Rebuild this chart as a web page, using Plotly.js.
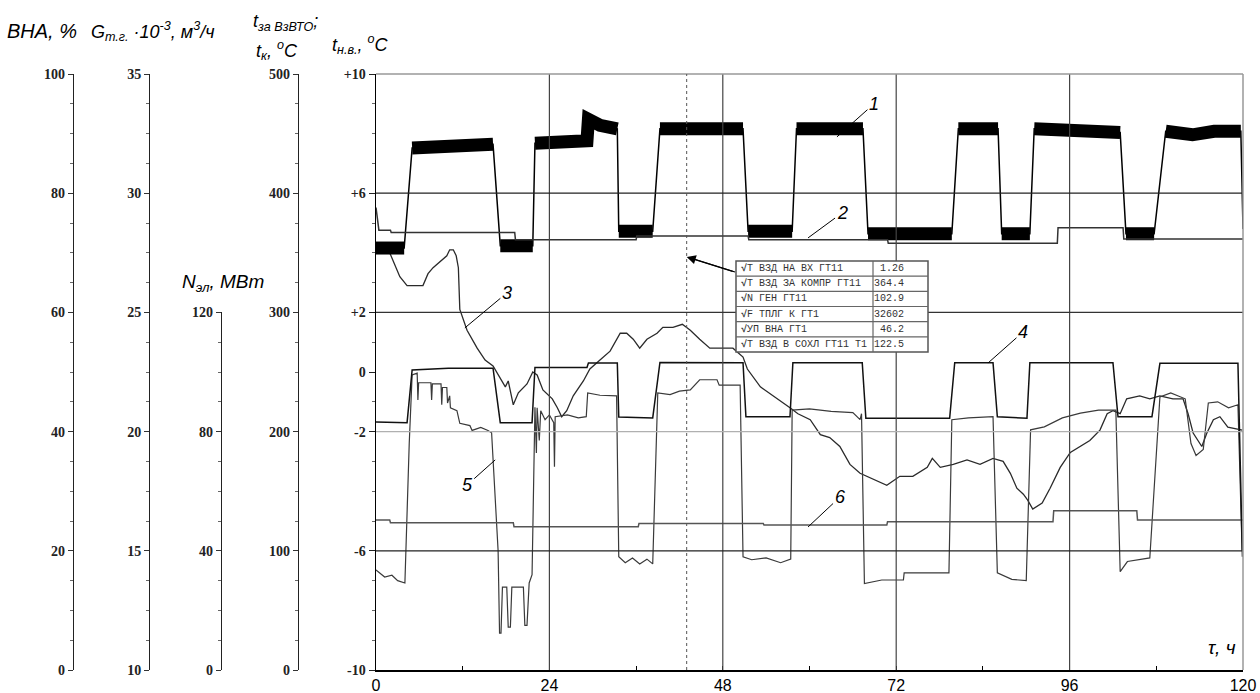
<!DOCTYPE html>
<html><head><meta charset="utf-8">
<script src="https://cdn.plot.ly/plotly-3.0.1.min.js"></script>
<style>html,body{margin:0;padding:0;background:#fff}#chart{width:1260px;height:693px}</style>
</head><body><div id="chart"></div>
<script>
// ---- data (hours, values in each curve's own units) ----
// 1: fuel gas flow G, thousand m3/h
const c1_h = [0, 3.9, 5.0, 10.0, 16.2, 17.2, 21.7, 22.0, 26.0, 29.2, 29.4, 31.0, 33.4, 33.6, 38.3, 39.3, 45.0, 50.8, 51.5, 57.6, 58.2, 63.0, 67.4, 68.1, 74.0, 79.7, 80.6, 86.1, 86.6, 90.5, 91.1, 97.0, 103.0, 103.8, 107.7, 109.3, 113.0, 116.0, 119.7, 120.0];
const c1_G = [27.7, 27.7, 31.9, 32.0, 32.05, 27.8, 27.8, 32.1, 32.15, 32.2, 33.1, 32.85, 32.7, 28.4, 28.4, 32.7, 32.65, 32.7, 28.4, 28.4, 32.7, 32.65, 32.7, 28.3, 28.3, 28.3, 32.7, 32.7, 28.3, 28.3, 32.7, 32.65, 32.55, 28.3, 28.3, 32.6, 32.45, 32.6, 32.6, 28.5];
// 2: compressor outlet air temperature, °C
const c2_h = [0, 0.4, 2.0, 2.1, 19.2, 19.3, 36.0, 36.1, 51.5, 51.6, 70.8, 70.9, 94.3, 94.4, 103.4, 103.5, 120];
const c2_tk = [388, 369, 369, 367, 367, 361, 361, 364, 364, 361, 361, 358, 358, 371, 371, 361.5, 361.5];
// 3: outdoor air temperature, °C
const c3_h = [0, 1.9, 3.3, 4.3, 6.5, 7.2, 7.9, 8.9, 9.8, 10.2, 10.7, 11.1, 11.4, 11.6, 12.6, 14.0, 15.1, 16.2, 17.2, 17.9, 18.3, 19.0, 19.7, 20.9, 21.7, 22.3, 23.1, 24.4, 25.1, 25.7, 26.4, 27.3, 28.7, 29.6, 31.0, 32.4, 33.8, 34.7, 35.6, 36.5, 37.5, 38.9, 39.7, 41.1, 42.4, 43.5, 44.8, 46.2, 48.0, 49.4, 50.8, 51.4, 53.2, 55.0, 57.3, 58.4, 60.1, 61.5, 62.8, 64.2, 65.6, 67.0, 68.8, 70.7, 72.5, 74.3, 76.3, 77.0, 78.1, 79.9, 81.8, 83.6, 85.4, 86.8, 87.8, 88.7, 89.6, 90.2, 90.9, 92.2, 93.3, 94.7, 96.1, 97.4, 98.8, 100.2, 101.2, 102.0, 103.0, 103.9, 105.7, 107.1, 108.5, 110.3, 111.7, 112.4, 113.1, 114.3, 115.0, 115.9, 116.8, 117.9, 119.2, 119.9];
const c3_tnv = [4.3, 4.0, 3.2, 2.9, 2.9, 3.3, 3.5, 3.7, 3.9, 4.1, 4.1, 3.9, 3.5, 2.1, 1.4, 0.8, 0.4, 0.2, -0.2, -0.5, -0.3, -1.1, -0.7, -0.4, 0.0, -0.1, -0.6, -0.9, -1.2, -1.5, -1.3, -0.8, -0.3, 0.1, 0.4, 0.7, 1.3, 1.3, 1.1, 0.8, 1.1, 1.3, 1.5, 1.5, 1.6, 1.4, 1.1, 0.8, 0.8, 0.8, 0.5, 0.1, -0.5, -0.8, -1.2, -1.4, -1.6, -2.1, -2.2, -2.5, -3.1, -3.4, -3.6, -3.8, -3.5, -3.5, -3.2, -2.9, -3.2, -3.1, -2.95, -3.1, -2.9, -3.0, -3.4, -3.9, -4.1, -4.3, -4.6, -4.4, -3.9, -3.2, -2.7, -2.5, -2.3, -1.95, -1.4, -1.3, -1.4, -0.9, -0.8, -0.9, -0.8, -0.9, -0.9, -1.4, -2.05, -2.5, -2.05, -1.6, -1.5, -1.85, -1.9, -1.95];
// 4: generator electric power, MW
const c4_h = [0, 4.3, 5.0, 10, 16.2, 17.2, 21.6, 22.0, 29.2, 29.4, 33.4, 33.6, 38.3, 39.3, 50.8, 51.2, 57.3, 57.7, 67.3, 67.8, 79.4, 80.1, 85.4, 86.0, 90.1, 90.5, 102.0, 102.7, 107.4, 108.5, 119.3, 119.9];
const c4_N = [83.2, 83.0, 100.7, 101.3, 101.3, 83.0, 83.0, 101.5, 101.5, 103.0, 103.0, 84.9, 84.6, 103.2, 103.1, 85.0, 85.0, 103.1, 103.1, 84.5, 84.5, 103.1, 103.1, 85.0, 84.5, 103.1, 103.1, 85.0, 85.0, 102.9, 102.9, 40];
// 5: inlet guide vanes position, %
const c5_h = [0, 1.2, 2.2, 3.0, 4.0, 4.6, 5.0, 5.7, 5.8, 5.9, 7.6, 7.7, 7.8, 9.0, 9.1, 9.2, 9.8, 9.9, 10.2, 10.3, 11.2, 11.6, 13.0, 13.3, 14.5, 15.5, 16.0, 16.9, 17.1, 17.3, 17.5, 18.1, 18.3, 18.6, 18.8, 20.4, 20.6, 20.9, 21.2, 21.6, 22.0, 22.2, 22.3, 22.6, 22.8, 23.4, 24.0, 24.6, 24.7, 24.8, 26.5, 28.0, 29.1, 29.3, 31.0, 33.3, 33.6, 34.5, 35.5, 36.5, 37.5, 38.3, 39.0, 40.7, 42.0, 43.5, 44.8, 47.2, 47.5, 50.4, 50.8, 52.0, 54.0, 56.0, 57.4, 57.6, 60, 63, 66.0, 67.0, 67.2, 67.6, 70.0, 73.0, 73.1, 79.3, 79.7, 82.0, 85.4, 86.0, 88.0, 90.0, 90.6, 92.5, 95.0, 97.5, 100.0, 102.4, 103.0, 104.0, 107.1, 108.5, 110.0, 112.0, 112.8, 113.5, 114.5, 115.2, 116.5, 118.0, 119.3, 119.9];
const c5_vna = [16.8, 15.6, 15.9, 15.0, 14.6, 38, 49.5, 49.8, 45.3, 48.2, 48.2, 45.3, 48.0, 48.0, 44.5, 47.4, 47.4, 44.8, 46.0, 44.0, 43.5, 41.4, 41.0, 40.2, 40.7, 40.2, 39.8, 20.0, 6.2, 6.2, 13.9, 13.9, 7.2, 7.2, 13.9, 13.9, 7.5, 7.5, 14.6, 16, 44.1, 36.4, 44.0, 38.5, 43.5, 42.0, 42.8, 41.5, 34.1, 42.5, 42.8, 42.3, 42.5, 46.5, 46.1, 46.0, 19.0, 18.0, 18.8, 17.8, 18.6, 17.8, 46.5, 46.2, 46.8, 47.0, 48.7, 48.7, 47.8, 47.8, 19.0, 18.5, 18.8, 18.0, 18.6, 43.6, 43.8, 43.4, 43.2, 42.0, 43.0, 14.5, 15.1, 15.1, 16.3, 16.3, 42.0, 42.3, 42.5, 16.3, 15.2, 15.0, 40.3, 40.8, 42.3, 43.1, 43.6, 43.6, 16.5, 18.2, 18.8, 45.8, 46.5, 45.5, 38.0, 36.0, 37.0, 44.8, 45.0, 44.0, 44.5, 19.0];
// 6: air temperature after air cooler, °C
const c6_h = [0, 1.9, 2.0, 19.0, 19.1, 36.3, 36.4, 53.6, 53.7, 70.7, 70.8, 93.7, 93.8, 105.3, 105.4, 120];
const c6_tvz = [125.8, 125.8, 123.6, 123.6, 120.2, 120.2, 123.0, 123.0, 121.6, 121.6, 124.4, 124.4, 133.6, 133.6, 125.8, 125.8];
// cursor table
const tableNames = ['Т ВЗД НА ВХ ГТ11', 'Т ВЗД ЗА КОМПР ГТ11', 'N ГЕН ГТ11', 'F ТПЛГ К ГТ1', 'УП ВНА ГТ1', 'Т ВЗД В СОХЛ ГТ11 Т1'];
const tableValues = ['1.26', '364.4', '102.9', '32602', '46.2', '122.5'];
const cursorHour = 43;
const xTicks = [0, 24, 48, 72, 96, 120];

// ---- helpers ----
const PW = 1243, PT = 74, PB = 670, PH = PB - PT;
const X = px => px / PW;
const Y = py => (PB - py) / PH;

function band(xs, ys, thr) {
  const bx = [], by = [];
  for (let i = 0; i < xs.length; i++) {
    bx.push(xs[i]); by.push(ys[i]);
    if (i < xs.length - 1 && Math.abs(ys[i + 1] - ys[i]) > thr) { bx.push(null); by.push(null); }
  }
  return {bx, by};
}
const b1 = band(c1_h, c1_G, 2.0);

const traces = [
  {x: c6_h, y: c6_tvz, yaxis: 'y5', mode: 'lines', line: {color: '#555', width: 1.5}},
  {x: c2_h, y: c2_tk, yaxis: 'y5', mode: 'lines', line: {color: '#333', width: 1.5}},
  {x: c3_h, y: c3_tnv, yaxis: 'y', mode: 'lines', line: {color: '#2a2a2a', width: 1.3}},
  {x: c5_h, y: c5_vna, yaxis: 'y2', mode: 'lines', line: {color: '#3a3a3a', width: 1.2}},
  {x: c4_h, y: c4_N, yaxis: 'y4', mode: 'lines', line: {color: '#111', width: 1.5}},
  {x: c1_h, y: c1_G, yaxis: 'y3', mode: 'lines', line: {color: '#000', width: 1.5}},
  {x: b1.bx, y: b1.by, yaxis: 'y3', mode: 'lines', connectgaps: false, line: {color: '#000', width: 13}}
];

const tickFont = {family: 'Liberation Serif, Times New Roman, serif', size: 14, color: '#222', weight: 'bold'};
function range(a, b, s) { const r = []; for (let v = a; v <= b + 1e-9; v += s) r.push(+v.toFixed(4)); return r; }
function sideAxis(pos, rng, vals, minorStep, extra) {
  return Object.assign({
    anchor: 'free', position: pos, side: 'left', range: rng,
    tickmode: 'array', tickvals: vals, ticks: 'outside', ticklen: 5, tickcolor: '#333', tickwidth: 1,
    minor: {tickmode: 'array', tickvals: range(rng[0], rng[1], minorStep), ticks: 'outside', ticklen: 3, tickcolor: '#666'},
    showline: true, linecolor: '#222', linewidth: 1.3, showgrid: false, zeroline: false,
    tickfont: tickFont, fixedrange: true
  }, extra || {});
}

const shapes = [];
[24, 48, 72, 96].forEach(v => shapes.push({type: 'line', xref: 'x', yref: 'paper', x0: v, x1: v, y0: 0, y1: 1, line: {color: '#444', width: 1.2}}));
[[6, '#222'], [2, '#333'], [-2, '#b0b0b0'], [-6, '#222']].forEach(([v, c]) => shapes.push({type: 'line', xref: 'paper', yref: 'y', x0: X(376), x1: 1, y0: v, y1: v, line: {color: c, width: 1.3}}));
shapes.push({type: 'line', xref: 'paper', yref: 'paper', x0: X(376), x1: 1, y0: 1, y1: 1, line: {color: '#999', width: 1.5}});
shapes.push({type: 'line', xref: 'paper', yref: 'paper', x0: 1, x1: 1, y0: 0, y1: 1, line: {color: '#999', width: 1.5}});
shapes.push({type: 'line', xref: 'x', yref: 'paper', x0: cursorHour, x1: cursorHour, y0: 0, y1: 1, line: {color: '#555', width: 1, dash: 'dot'}});
// table frame
const tx0 = 736, tx1 = 928, ty0 = 261, ty1 = 352, tcol = 873, rowH = (ty1 - ty0) / tableNames.length;
shapes.push({type: 'rect', layer: 'above', xref: 'paper', yref: 'paper', x0: X(tx0), x1: X(tx1), y0: Y(ty1), y1: Y(ty0), fillcolor: '#fff', line: {color: '#555', width: 1.5}});
for (let i = 1; i < tableNames.length; i++) shapes.push({type: 'line', layer: 'above', xref: 'paper', yref: 'paper', x0: X(tx0), x1: X(tx1), y0: Y(ty0 + i * rowH), y1: Y(ty0 + i * rowH), line: {color: '#666', width: 1.2}});
shapes.push({type: 'line', layer: 'above', xref: 'paper', yref: 'paper', x0: X(tcol), x1: X(tcol), y0: Y(ty1), y1: Y(ty0), line: {color: '#666', width: 1.2}});
// cursor arrow shaft
shapes.push({type: 'line', layer: 'above', xref: 'paper', yref: 'paper', x0: X(735), x1: X(692), y0: Y(272), y1: Y(258.5), line: {color: '#000', width: 1.3}});

const sans = 'Liberation Sans, Arial, sans-serif';
const ann = [];
function T(txt, px, py, size, xanchor) {
  ann.push({xref: 'paper', yref: 'paper', x: X(px), y: Y(py), text: txt, showarrow: false, xanchor: xanchor || 'center', yanchor: 'middle', font: {family: sans, size: size, color: '#000'}});
}
T('<i>ВНА, %</i>', 42, 31, 20);
T('<i>G<sub>т.г.</sub> ·10<sup>-3</sup>, м<sup>3</sup>/ч</i>', 153, 31, 18);
T('<i>t<sub>за ВзВТО</sub>;</i>', 285, 22, 18);
T('<i>t<sub>к</sub>, <sup>o</sup>C</i>', 277, 50, 18);
T('<i>t<sub>н.в.</sub>, <sup>o</sup>C</i>', 360, 45, 18);
T('<i>N<sub>эл</sub>, МВт</i>', 223, 283, 19);
T('<i>τ, ч</i>', 1222, 647, 19);
// table text
tableNames.forEach((n, i) => {
  const cy = ty0 + (i + 0.5) * rowH;
  ann.push({xref: 'paper', yref: 'paper', x: X(tx0 + 3), y: Y(cy), xanchor: 'left', yanchor: 'middle', showarrow: false, text: '<b>√</b>' + n, font: {family: 'Liberation Mono, Courier New, monospace', size: 10, color: '#333'}});
  ann.push({xref: 'paper', yref: 'paper', x: X(906), y: Y(cy), xanchor: 'right', yanchor: 'middle', showarrow: false, text: tableValues[i], font: {family: 'Liberation Mono, Courier New, monospace', size: 10, color: '#333'}});
});
// cursor arrow head (tail shaft drawn as shape)
ann.push({xref: 'x', yref: 'y', x: cursorHour, y: 3.86, ax: 48, ay: 15, text: '·', font: {size: 1, color: '#fff'}, showarrow: true, arrowhead: 2, arrowsize: 1.4, arrowwidth: 1.3, arrowcolor: '#000'});
// curve labels with leader lines
[['1', 63.8, 7.89, 37, -33], ['2', 59.8, 4.50, 34, -25], ['3', 12.3, 1.48, 42, -35], ['4', 84.7, 0.30, 35, -31], ['5', 16.5, -2.95, -28, 25], ['6', 59.8, -5.20, 32, -30]]
  .forEach(([t, x, y, ax, ay]) => ann.push({xref: 'x', yref: 'y', x: x, y: y, ax: ax, ay: ay, text: '<i>' + t + '</i>', showarrow: true, arrowhead: 0, arrowwidth: 1, arrowcolor: '#000', font: {family: sans, size: 18, color: '#000'}}));

const layout = {
  width: 1260, height: 693, margin: {l: 0, r: 17, t: 74, b: 23},
  paper_bgcolor: '#fff', plot_bgcolor: 'rgba(0,0,0,0)', showlegend: false, hovermode: false,
  xaxis: {domain: [X(376), 1], range: [0, 120], tickmode: 'array', tickvals: xTicks, ticks: 'inside', ticklen: 4, tickcolor: '#000',
    minor: {tickmode: 'array', tickvals: [12, 36, 60, 84, 108], ticks: 'inside', ticklen: 4, tickcolor: '#000'},
    showline: true, linecolor: '#000', linewidth: 1.5, showgrid: false, zeroline: false, anchor: 'y',
    tickfont: {family: sans, size: 16, color: '#000'}, ticklabelstandoff: 0, fixedrange: true},
  yaxis: {anchor: 'x', side: 'left', range: [-10, 10], tickmode: 'array', tickvals: [-10, -6, -2, 0, 2, 6, 10],
    ticktext: ['-10', '-6', '-2', '0', '+2', '+6', '+10'], ticks: 'outside', ticklen: 6, tickcolor: '#222',
    minor: {tickmode: 'array', tickvals: range(-10, 10, 1), ticks: 'outside', ticklen: 3, tickcolor: '#666'},
    showline: true, linecolor: '#000', linewidth: 1.5, showgrid: false, zeroline: false, tickfont: tickFont, fixedrange: true},
  yaxis2: sideAxis(X(72.7), [0, 100], [0, 20, 40, 60, 80, 100], 5, {overlaying: 'y'}),
  yaxis3: sideAxis(X(149), [10, 35], [10, 15, 20, 25, 30, 35], 1.25, {overlaying: 'y'}),
  yaxis4: sideAxis(X(220.7), [0, 120], [0, 40, 80, 120], 10, {domain: [0, 0.6]}),
  yaxis5: sideAxis(X(297.7), [0, 500], [0, 100, 200, 300, 400, 500], 25, {overlaying: 'y'}),
  shapes: shapes, annotations: ann
};
Plotly.newPlot('chart', traces, layout, {staticPlot: true, displayModeBar: false});
</script></body></html>
